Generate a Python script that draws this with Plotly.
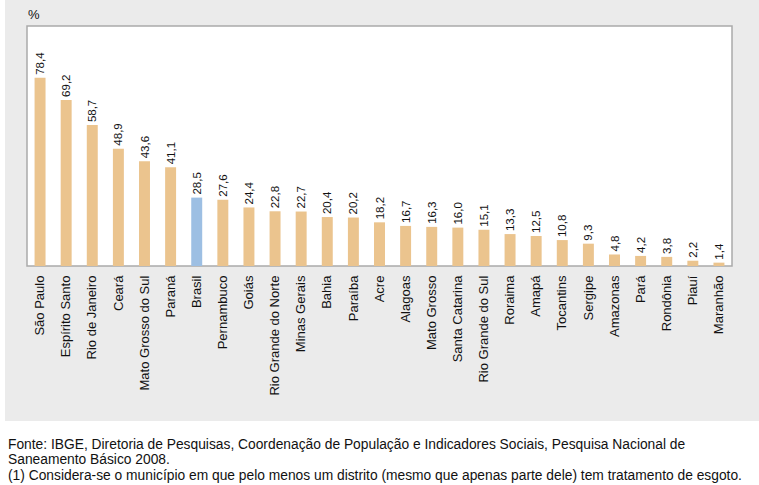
import plotly.graph_objects as go

categories = ["São Paulo", "Espírito Santo", "Rio de Janeiro", "Ceará", "Mato Grosso do Sul",
              "Paraná", "Brasil", "Pernambuco", "Goiás", "Rio Grande do Norte", "Minas Gerais",
              "Bahia", "Paraíba", "Acre", "Alagoas", "Mato Grosso", "Santa Catarina",
              "Rio Grande do Sul", "Roraima", "Amapá", "Tocantins", "Sergipe", "Amazonas",
              "Pará", "Rondônia", "Piauí", "Maranhão"]
values = [78.4, 69.2, 58.7, 48.9, 43.6, 41.1, 28.5, 27.6, 24.4, 22.8, 22.7, 20.4, 20.2,
          18.2, 16.7, 16.3, 16.0, 15.1, 13.3, 12.5, 10.8, 9.3, 4.8, 4.2, 3.8, 2.2, 1.4]
highlight = "Brasil"

TAN = "#ebc48e"
BLUE = "#9dbfe3"
colors = [BLUE if c == highlight else TAN for c in categories]
labels = [f"{v:.1f}".replace(".", ",") for v in values]

font = "Liberation Sans, Arial, sans-serif"

fig = go.Figure(go.Bar(
    x=categories, y=values, marker_color=colors, marker_line_width=0,
    text=labels, textposition="outside", textangle=-90,
    textfont=dict(size=11.5, color="#111", family=font),
    cliponaxis=False, constraintext="none",
))

W, H = 759, 485
L, R, T, B = 27, 27, 26, 219
pw, ph = W - L - R, H - T - B

def px_x(x):
    return (x - L) / pw

def px_y(y):
    return (H - B - y) / ph

shapes = [dict(type="rect", xref="paper", yref="paper",
               x0=px_x(5), x1=px_x(W + 5), y0=px_y(421), y1=px_y(-5),
               fillcolor="#ebebeb", line_width=0, layer="below"),
          dict(type="rect", xref="paper", yref="paper",
               x0=0, x1=1, y0=0, y1=1,
               fillcolor="white", line=dict(color="#aaaaaa", width=1.5), layer="below")]

notes = ["Fonte: IBGE, Diretoria de Pesquisas, Coordenação de População e Indicadores Sociais, Pesquisa Nacional de",
         "Saneamento Básico 2008.",
         "(1) Considera-se o município em que pelo menos um distrito (mesmo que apenas parte dele) tem tratamento de esgoto."]
ann = [dict(text="%", xref="paper", yref="paper", x=px_x(34), y=px_y(15),
            showarrow=False, xanchor="center", yanchor="middle",
            font=dict(size=13, color="#111", family=font))]
for i, n in enumerate(notes):
    ann.append(dict(text=n, xref="paper", yref="paper", x=px_x(6), y=px_y(444 + i * 15.5),
                    showarrow=False, xanchor="left", yanchor="middle",
                    font=dict(size=13.8, color="#111", family=font)))

fig.update_layout(
    width=W, height=H, margin=dict(l=L, r=R, t=T, b=B, pad=0),
    paper_bgcolor="white", plot_bgcolor="rgba(0,0,0,0)",
    bargap=0.58, showlegend=False, shapes=shapes, annotations=ann,
    xaxis=dict(tickangle=-90, tickfont=dict(size=13, color="#111", family=font),
               showgrid=False, zeroline=False, showline=False, ticks="",
               ticklabelstandoff=6),
    yaxis=dict(range=[0, 100], visible=False, showgrid=False, zeroline=False),
    font=dict(family=font),
)

fig.write_html("out.html", config={"displayModeBar": False},
               post_script="document.body.style.margin='0';document.body.style.padding='0';")
